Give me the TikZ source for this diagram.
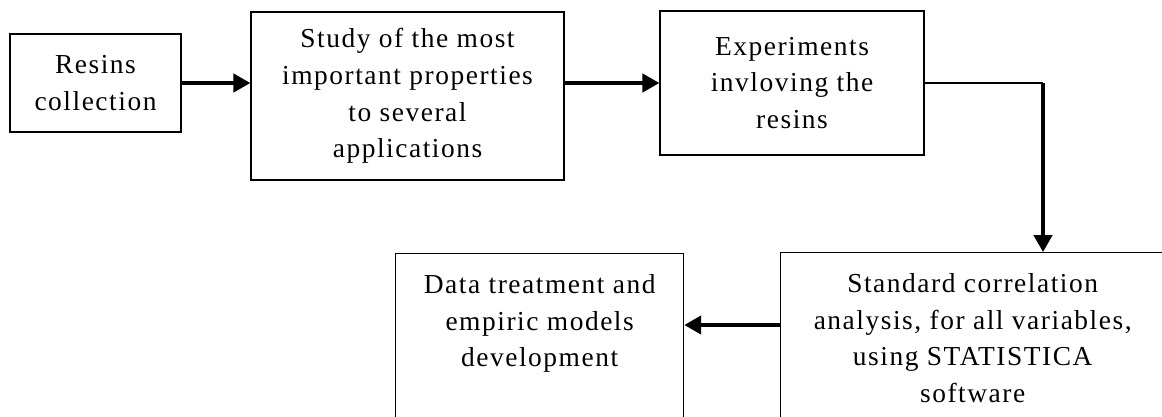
\documentclass[tikz,border=0pt]{standalone}
\usepackage{fontspec}
\setmainfont{Liberation Serif}[LetterSpace=5.6]
\usetikzlibrary{positioning,calc,arrows.meta}

\tikzset{
  box/.style={draw, line width=0.9pt, rectangle, inner sep=0pt, align=center,
    font=\fontsize{19.5pt}{26pt}\selectfont},
  lowbox/.style={box, anchor=north west, inner xsep=0pt, inner ysep=15pt},
  flow/.style={line width=2.5pt, -{Triangle[length=12pt,width=13pt]}},
}

\begin{document}
\begin{tikzpicture}[x=0.025cm, y=-0.025cm]
    \clip (0,0) rectangle (1162,416);
    % top row
    \node[box, minimum width=4.275cm, minimum height=2.45cm] (res) at (95.5,83) {Resins\\collection};
    \node[box, minimum width=7.825cm, minimum height=4.2cm] (study) at (407.5,96) {Study of the most\\important properties\\to several\\applications};
    \node[box, minimum width=6.6cm, minimum height=3.6cm] (exp) at (792,83) {Experiments\\invloving the\\resins};
    % bottom row
    \node[lowbox] (std) at (780,252) {\parbox[t][5cm][t]{9.6cm}{\centering Standard correlation\\analysis, for all variables,\\using STATISTICA\\software}};
    \node[lowbox] (data) at (395,253) {\parbox[t][5cm][t]{7.2cm}{\centering Data treatment and\\empiric models\\development}};
    % connectors
    \coordinate (bend) at (1043,83);
    \coordinate (lvl) at (0,325);
    \draw[flow] (res.east) -- (res.east -| study.west);
    \draw[flow] (exp.west -| study.east) -- (exp.west);
    \draw[line width=0.9pt] (exp.east) -- (bend);
    \draw[flow] (bend) -- (bend |- std.north);
    \draw[flow] (std.west |- lvl) -- (data.east |- lvl);
\end{tikzpicture}
\end{document}
